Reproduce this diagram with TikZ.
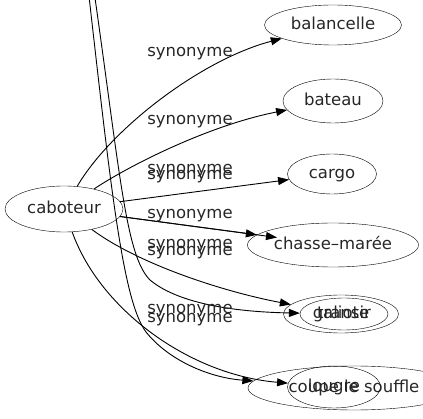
\documentclass[tikz,border=0pt]{standalone}
\usepackage{fontspec}
\setmainfont{DejaVu Sans}
\usetikzlibrary{shapes.geometric, arrows.meta}

\begin{document}
\begin{tikzpicture}[x=1pt, y=-1pt]
\tikzstyle{term} = [ellipse, draw, inner sep=0pt, minimum height=44pt, text height=12pt, text depth=3.5pt, text=black!85, font=\fontsize{16.5}{19}\selectfont]
\tikzstyle{rel} = [inner sep=0pt, text=black!85, font=\fontsize{16.5}{19}\selectfont]
\tikzstyle{syn} = [line width=0.9pt, ->, >={Triangle[length=11pt, width=8pt]}]

\useasboundingbox (0,0) rectangle (423,419);
\clip (0,0) rectangle (423,419);

\node (caboteur) [term, minimum width=118pt, minimum height=46pt] at (64,209) {caboteur};
\node (balancelle) [term, minimum width=137pt, minimum height=40pt] at (333,25) {balancelle};
\node (bateau) [term, minimum width=100pt] at (333,101) {bateau};
\node (cargo) [term, minimum width=89pt, minimum height=40pt] at (332,174) {cargo};
\node (chassemaree) [term, minimum width=171pt] at (333,245) {chasse–marée};
\node (galiote) [term, minimum width=115pt, minimum height=38pt] at (341,314) {galiote};
\node (transir) [term, minimum width=88pt, minimum height=32pt] at (344,314) {transir};
\node (lougre) [term, minimum width=93pt, minimum height=42pt] at (334,387) {lougre};
\node (coupe) [term, minimum width=212pt, minimum height=44pt] at (354,388) {coupe le souffle};

\coordinate (upA) at (86,-30);
\coordinate (upB) at (91,-30);
\coordinate (cmin) at (277,237.5);

\draw [syn] (caboteur) .. controls (110,130) and (200,60) .. (balancelle);
\draw [syn] (caboteur) .. controls (130,165) and (210,125) .. (bateau);
\draw [syn] (caboteur) -- (cargo);
\draw [syn] (caboteur) -- (chassemaree);
\draw [syn] (caboteur) -- (cmin);
\draw [syn] (caboteur) .. controls (140,265) and (225,292) .. (galiote);
\draw [syn] (caboteur) .. controls (100,310) and (190,375) .. (lougre);
\draw [syn] (upB) .. controls (120,170) and (125,255) .. (150,280) .. controls (180,305) and (240,312) .. (transir);
\draw [syn] (upA) .. controls (110,180) and (122,300) .. (146,332) .. controls (170,362) and (212,378) .. (coupe);

\node (lbalancelle) [rel] at (190,54) {synonyme};
\node (lbateau) [rel] at (190,122) {synonyme};
\node (lcargo) [rel] at (190,171) {synonyme};
\node (lcmin) [rel] at (190,177) {synonyme};
\node (lchassemaree) [rel] at (190,216) {synonyme};
\node (lgaliote) [rel] at (190,246) {synonyme};
\node (ltransir) [rel] at (190,253) {synonyme};
\node (llougre) [rel] at (190,311) {synonyme};
\node (lcoupe) [rel] at (190,320) {synonyme};

\end{tikzpicture}
\end{document}
